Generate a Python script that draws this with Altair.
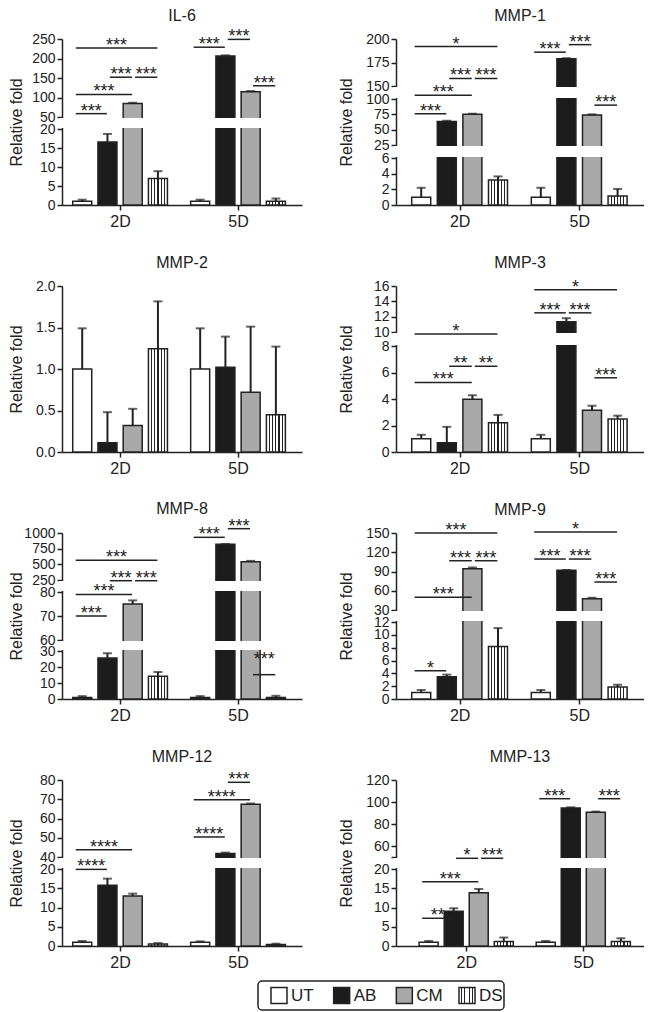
import altair as alt
import pandas as pd

FONT = "Liberation Sans"
INK = "#222222"
GROUPS = ["UT", "AB", "CM", "DS"]
DAYS = ["2D", "5D"]
FILLS = ["#ffffff", "#1c1c1c", "#a9a9a9"]

# ---------------- data ----------------
IL6_MEAN_2D = [1.0, 16.6, 84.5, 7.0]
IL6_SD_2D = [0.4, 2.1, 2.0, 1.9]
IL6_MEAN_5D = [1.0, 206.6, 115.0, 1.0]
IL6_SD_5D = [0.4, 1.5, 1.5, 0.7]
IL6_TICKS = [0, 5, 10, 15, 20, 50, 100, 150, 200, 250]
IL6_BREAKS = [(20, 50)]
IL6_SIG = [("2D", "UT", "AB", 58.6, "***"), ("2D", "UT", "CM", 108, "***"),
           ("2D", "AB", "CM", 152, "***"), ("2D", "CM", "DS", 152, "***"),
           ("2D", "UT", "DS", 227, "***"), ("5D", "UT", "AB", 229, "***"),
           ("5D", "AB", "CM", 249, "***"), ("5D", "CM", "DS", 130, "***")]

MMP1_MEAN_2D = [1.0, 63.5, 75.0, 3.2]
MMP1_SD_2D = [1.2, 1.0, 1.0, 0.45]
MMP1_MEAN_5D = [1.0, 179.0, 74.0, 1.15]
MMP1_SD_5D = [1.2, 0.6, 1.0, 0.9]
MMP1_TICKS = [0, 2, 4, 6, 25, 50, 75, 100, 150, 175, 200]
MMP1_BREAKS = [(6, 25), (100, 150)]
MMP1_SIG = [("2D", "UT", "DS", 192, "*"), ("2D", "AB", "CM", 158, "***"),
            ("2D", "CM", "DS", 158, "***"), ("2D", "UT", "CM", 114, "***"),
            ("2D", "UT", "AB", 76, "***"), ("5D", "UT", "AB", 186, "***"),
            ("5D", "AB", "CM", 194, "***"), ("5D", "CM", "DS", 90, "***")]

MMP2_MEAN_2D = [1.0, 0.11, 0.32, 1.245]
MMP2_SD_2D = [0.49, 0.37, 0.2, 0.57]
MMP2_MEAN_5D = [1.0, 1.02, 0.72, 0.45]
MMP2_SD_5D = [0.49, 0.37, 0.79, 0.82]
MMP2_TICKS = [0, 0.5, 1.0, 1.5, 2.0]
MMP2_BREAKS = []
MMP2_SIG = []

MMP3_MEAN_2D = [1.0, 0.7, 3.98, 2.2]
MMP3_SD_2D = [0.3, 1.2, 0.3, 0.6]
MMP3_MEAN_5D = [1.0, 11.35, 3.16, 2.49]
MMP3_SD_5D = [0.3, 0.45, 0.33, 0.25]
MMP3_TICKS = [0, 2, 4, 6, 8, 10, 12, 14, 16]
MMP3_BREAKS = [(8, 10)]
MMP3_SIG = [("2D", "UT", "DS", 9.7, "*"), ("2D", "AB", "CM", 6.47, "**"),
            ("2D", "CM", "DS", 6.47, "**"), ("2D", "UT", "CM", 5.25, "***"),
            ("5D", "UT", "DS", 15.5, "*"), ("5D", "UT", "AB", 12.5, "***"),
            ("5D", "AB", "CM", 12.5, "***"), ("5D", "CM", "DS", 5.6, "***")]

MMP8_MEAN_2D = [1.0, 25.6, 75.0, 14.2]
MMP8_SD_2D = [0.8, 3.0, 1.5, 2.7]
MMP8_MEAN_5D = [1.0, 820.0, 540.0, 1.0]
MMP8_SD_5D = [0.8, 5.0, 15.0, 1.0]
MMP8_TICKS = [0, 10, 20, 30, 60, 70, 80, 250, 500, 750, 1000]
MMP8_BREAKS = [(30, 60), (80, 250)]
MMP8_SIG = [("2D", "UT", "DS", 564, "***"), ("2D", "AB", "CM", 240, "***"),
            ("2D", "CM", "DS", 240, "***"), ("2D", "UT", "CM", 79, "***"),
            ("2D", "UT", "AB", 70, "***"), ("5D", "UT", "AB", 931, "***"),
            ("5D", "AB", "CM", 1069, "***"), ("5D", "CM", "DS", 15.2, "***", 23)]

MMP9_MEAN_2D = [1.0, 3.45, 94.3, 8.2]
MMP9_SD_2D = [0.4, 0.35, 2.0, 2.85]
MMP9_MEAN_5D = [1.0, 91.8, 47.6, 1.87]
MMP9_SD_5D = [0.4, 0.5, 1.5, 0.35]
MMP9_TICKS = [0, 2, 4, 6, 8, 10, 12, 30, 60, 90, 120, 150]
MMP9_BREAKS = [(12, 30)]
MMP9_SIG = [("2D", "UT", "DS", 150, "***"), ("2D", "AB", "CM", 106.8, "***"),
            ("2D", "CM", "DS", 106.8, "***"), ("2D", "UT", "CM", 49.8, "***"),
            ("2D", "UT", "AB", 4.4, "*"), ("5D", "UT", "DS", 151.6, "*"),
            ("5D", "UT", "AB", 109.4, "***"), ("5D", "AB", "CM", 109.4, "***"),
            ("5D", "CM", "DS", 73.6, "***")]

MMP12_MEAN_2D = [1.0, 15.8, 13.0, 0.5]
MMP12_SD_2D = [0.3, 1.7, 0.6, 0.25]
MMP12_MEAN_5D = [1.0, 41.8, 67.4, 0.4]
MMP12_SD_5D = [0.2, 0.5, 0.4, 0.2]
MMP12_TICKS = [0, 5, 10, 15, 20, 40, 50, 60, 70, 80]
MMP12_BREAKS = [(20, 40)]
MMP12_SIG = [("2D", "UT", "AB", 19.9, "****"), ("2D", "UT", "CM", 43.8, "****"),
             ("5D", "UT", "AB", 50.4, "****"), ("5D", "UT", "CM", 69.8, "****"),
             ("5D", "AB", "CM", 78.8, "***")]

MMP13_MEAN_2D = [1.0, 9.0, 13.8, 1.2]
MMP13_SD_2D = [0.3, 0.8, 1.0, 1.0]
MMP13_MEAN_5D = [1.0, 94.5, 90.6, 1.2]
MMP13_SD_5D = [0.3, 0.7, 0.7, 0.8]
MMP13_TICKS = [0, 5, 10, 15, 20, 50, 60, 80, 100, 120]
MMP13_BREAKS = [(20, 50)]
MMP13_SIG = [("2D", "UT", "AB", 7.2, "**"), ("2D", "UT", "CM", 16.7, "***"),
             ("2D", "AB", "CM", 46.75, "*"), ("2D", "CM", "DS", 46.75, "***"),
             ("5D", "UT", "AB", 103, "***"), ("5D", "CM", "DS", 103, "***")]

# ---------------- layout (pixel stops of each broken y axis) ----------------
H = 166
STEP = 0.214
PANELS = [
    dict(name="IL-6", mean=[IL6_MEAN_2D, IL6_MEAN_5D], sd=[IL6_SD_2D, IL6_SD_5D],
         ticks=IL6_TICKS, breaks=IL6_BREAKS, sig=IL6_SIG, yrange=[166, 90, 78, 0]),
    dict(name="MMP-1", mean=[MMP1_MEAN_2D, MMP1_MEAN_5D], sd=[MMP1_SD_2D, MMP1_SD_5D],
         ticks=MMP1_TICKS, breaks=MMP1_BREAKS, sig=MMP1_SIG, yrange=[166, 119, 106, 60, 47, 0]),
    dict(name="MMP-2", mean=[MMP2_MEAN_2D, MMP2_MEAN_5D], sd=[MMP2_SD_2D, MMP2_SD_5D],
         ticks=MMP2_TICKS, breaks=MMP2_BREAKS, sig=MMP2_SIG, yrange=[166, 0], fmt=".1f"),
    dict(name="MMP-3", mean=[MMP3_MEAN_2D, MMP3_MEAN_5D], sd=[MMP3_SD_2D, MMP3_SD_5D],
         ticks=MMP3_TICKS, breaks=MMP3_BREAKS, sig=MMP3_SIG, yrange=[166, 60, 46, 0]),
    dict(name="MMP-8", mean=[MMP8_MEAN_2D, MMP8_MEAN_5D], sd=[MMP8_SD_2D, MMP8_SD_5D],
         ticks=MMP8_TICKS, breaks=MMP8_BREAKS, sig=MMP8_SIG, yrange=[166, 118, 107, 59, 47, 0]),
    dict(name="MMP-9", mean=[MMP9_MEAN_2D, MMP9_MEAN_5D], sd=[MMP9_SD_2D, MMP9_SD_5D],
         ticks=MMP9_TICKS, breaks=MMP9_BREAKS, sig=MMP9_SIG, yrange=[166, 89, 77, 0]),
    dict(name="MMP-12", mean=[MMP12_MEAN_2D, MMP12_MEAN_5D], sd=[MMP12_SD_2D, MMP12_SD_5D],
         ticks=MMP12_TICKS, breaks=MMP12_BREAKS, sig=MMP12_SIG, yrange=[166, 89, 77, 0]),
    dict(name="MMP-13", mean=[MMP13_MEAN_2D, MMP13_MEAN_5D], sd=[MMP13_SD_2D, MMP13_SD_5D],
         ticks=MMP13_TICKS, breaks=MMP13_BREAKS, sig=MMP13_SIG, yrange=[166, 89, 77, 0],
         hide=[50], xdom=[-0.557, 1.476]),
]


def stripes(n=5, w=0.06):
    stops = [(0.0, "#ffffff")]
    for k in range(1, n + 1):
        c = k / (n + 1)
        stops += [(c - w / 2, "#ffffff"), (c - w / 2, INK), (c + w / 2, INK), (c + w / 2, "#ffffff")]
    stops.append((1.0, "#ffffff"))
    return alt.LinearGradient(gradient="linear", x1=0, x2=1, y1=0, y2=0,
                              stops=[alt.GradientStop(color=c, offset=o) for o, c in stops])


STRIPES = stripes()


def make_panel(p, col):
    W = 240 if col == 0 else 248
    xdom = p.get("xdom", [-0.45, 1.5] if col == 0 else [-0.49, 1.5])
    rows = []
    for ci, day in enumerate(DAYS):
        for gi, g in enumerate(GROUPS):
            m = p["mean"][ci][gi]
            s = p["sd"][ci][gi]
            rows.append({"pos": ci + (gi - 1.5) * STEP, "group": g, "mean": m, "top": m + s})
    bars = pd.DataFrame(rows)

    srows = []
    for t in p["sig"]:
        day, a, b, lvl, lab = t[:5]
        star = t[5] if len(t) > 5 else lvl
        ci = DAYS.index(day)
        x1 = ci + (GROUPS.index(a) - 1.5) * STEP + (-0.055 if a == "UT" else 0.02)
        x2 = ci + (GROUPS.index(b) - 1.5) * STEP - 0.005
        srows.append({"x1": x1, "x2": x2, "xm": (x1 + x2) / 2, "level": lvl, "star": star, "label": lab})
    sig = pd.DataFrame(srows)

    stops = [p["ticks"][0]] + [v for br in p["breaks"] for v in br] + [p["ticks"][-1]]
    yscale = alt.Scale(domain=stops, range=p["yrange"], nice=False, zero=False)
    xscale = alt.Scale(domain=xdom, nice=False, zero=False)
    fmt = p.get("fmt", "d")
    hide = p.get("hide", [])
    if hide:
        lab_expr = f"indexof({hide}, datum.value) >= 0 ? '' : format(datum.value, '{fmt}')"
    else:
        lab_expr = f"format(datum.value, '{fmt}')"
    yaxis = alt.Axis(values=p["ticks"], title="Relative fold", titleX=-38 if col == 0 else -42,
                     labelExpr=lab_expr, labelOverlap=False, labelFlush=False)
    xaxis = alt.Axis(values=[0, 1], labelExpr="datum.value == 0 ? '2D' : '5D'", title=None,
                     labelFontSize=16, labelPadding=3, labelFlush=False)

    def X(f):
        return alt.X(f"{f}:Q", scale=xscale, axis=xaxis)

    def Y(f):
        return alt.Y(f"{f}:Q", scale=yscale, axis=yaxis)

    base = alt.Chart(bars)
    layers = [
        base.transform_filter(alt.datum.group != "DS").mark_bar(
            width=19, stroke=INK, strokeWidth=1.5, orient="vertical").encode(
            x=X("pos"), y=Y("mean"), y2=alt.datum(0),
            fill=alt.Fill("group:N", scale=alt.Scale(domain=GROUPS[:3], range=FILLS), legend=None)),
        base.transform_filter(alt.datum.group == "DS").mark_bar(
            width=19, stroke=INK, strokeWidth=1.5, orient="vertical", fill=STRIPES).encode(
            x=X("pos"), y=Y("mean"), y2=alt.datum(0)),
        base.mark_rule(color=INK, strokeWidth=2).encode(x=X("pos"), y=Y("mean"), y2=alt.Y2("top")),
        base.mark_tick(color=INK, orient="horizontal", size=9, thickness=2).encode(x=X("pos"), y=Y("top")),
    ]
    if p["breaks"]:
        mask = pd.DataFrame(p["breaks"], columns=["lo", "hi"])
        layers.append(alt.Chart(mask).mark_rect(color="white", yOffset=-1, y2Offset=1).encode(
            x=alt.value(-3), x2=alt.value(W), y=Y("lo"), y2=alt.Y2("hi")))
    if len(sig):
        sc = alt.Chart(sig)
        layers.append(sc.mark_rule(color=INK, strokeWidth=1.5).encode(
            x=X("x1"), x2=alt.X2("x2"), y=Y("level")))
        layers.append(sc.mark_text(font=FONT, fontSize=18, color=INK, baseline="alphabetic", dy=3).encode(
            x=X("xm"), y=Y("star"), text="label:N"))
    # invisible spacer so every panel title sits at the same height above its plot
    layers.append(alt.Chart(pd.DataFrame({"v": [0]})).mark_rule(opacity=0).encode(
        x=alt.value(0), x2=alt.value(2), y=alt.value(-14)))
    return alt.layer(*layers).properties(
        width=W, height=H,
        title=alt.TitleParams(p["name"], offset=1, frame="group", anchor="middle"))


panels = [make_panel(p, i % 2) for i, p in enumerate(PANELS)]
grid = alt.concat(*panels, columns=2, spacing=alt.RowColnumber(row=81, column=94),
                  bounds="flush", align="each")

# ---------------- legend ----------------
leg = pd.DataFrame({"group": GROUPS})
lx = alt.X("group:N", scale=alt.Scale(domain=GROUPS, range=[21, 209], padding=0), axis=None)
lbase = alt.Chart(leg)
legend = alt.layer(
    lbase.transform_filter(alt.datum.group != "DS").mark_square(
        size=256, stroke=INK, strokeWidth=1.5, opacity=1).encode(
        x=lx, y=alt.value(14.5),
        fill=alt.Fill("group:N", scale=alt.Scale(domain=GROUPS[:3], range=FILLS), legend=None)),
    lbase.transform_filter(alt.datum.group == "DS").mark_square(
        size=256, stroke=INK, strokeWidth=1.5, opacity=1, fill=STRIPES).encode(
        x=lx, y=alt.value(14.5)),
    lbase.mark_text(font=FONT, fontSize=17, color=INK, align="left", baseline="middle", dx=12).encode(
        x=lx, y=alt.value(15), text="group:N"),
).properties(width=246, height=29,
             view=alt.ViewBackground(stroke=INK, strokeWidth=1.5, cornerRadius=4))

spacer = alt.Chart(pd.DataFrame({"v": [0]})).mark_rule(opacity=0).encode(
    x=alt.value(0), x2=alt.value(1), y=alt.value(0)).properties(width=195, height=29)

legend_row = alt.hconcat(spacer, legend, spacing=0)

chart = alt.vconcat(grid, legend_row, spacing=10).properties(
    padding=0, background="white"
).configure_view(strokeWidth=0).configure_axis(
    grid=False, domainColor=INK, tickColor=INK, domainWidth=1.5, tickWidth=1.5, tickSize=5,
    labelColor=INK, titleColor=INK, labelFont=FONT, titleFont=FONT, labelFontSize=14,
    titleFontSize=16, titleFontWeight="normal", labelPadding=2
).configure_title(font=FONT, fontSize=16, fontWeight="normal", color=INK)

chart.save("out.html", embed_options={"renderer": "svg", "actions": False})
